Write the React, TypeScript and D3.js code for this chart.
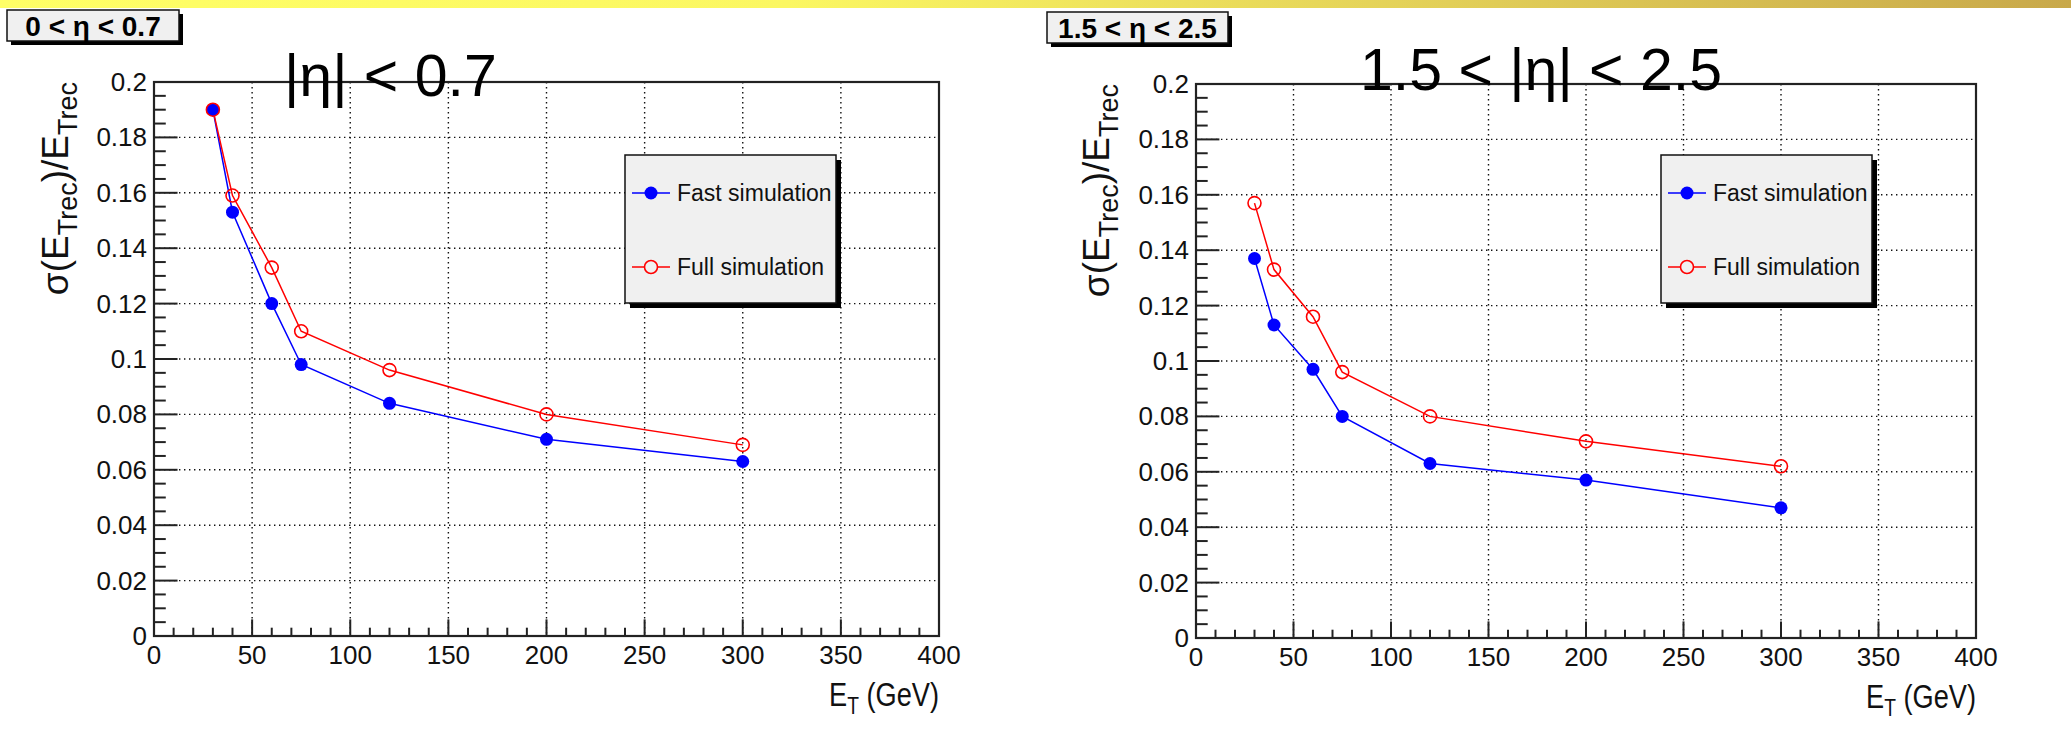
import React from 'react';
import * as d3 from 'd3';

// ---- data ----
const energies = [30, 40, 60, 75, 120, 200, 300];
const fastCentral = [0.19, 0.153, 0.12, 0.098, 0.084, 0.071, 0.063];
const fullCentral = [0.19, 0.159, 0.133, 0.11, 0.096, 0.08, 0.069];
const fastForward = [0.137, 0.113, 0.097, 0.08, 0.063, 0.057, 0.047];
const fullForward = [0.157, 0.133, 0.116, 0.096, 0.08, 0.071, 0.062];
const xTickValues = [0, 50, 100, 150, 200, 250, 300, 350, 400];
const yTickValues = [0, 0.02, 0.04, 0.06, 0.08, 0.1, 0.12, 0.14, 0.16, 0.18, 0.2];
const yTickLabels = ['0', '0.02', '0.04', '0.06', '0.08', '0.1', '0.12', '0.14', '0.16', '0.18', '0.2'];
const seriesNames = ['Fast simulation', 'Full simulation'];
const panelTitles = ['|η| < 0.7', '1.5 < |η| < 2.5'];
const boxLabels = ['0 < η < 0.7', '1.5 < η < 2.5'];

const FONT = '"Liberation Sans", Arial, Helvetica, sans-serif';

type PanelProps = {
  left: number; right: number; top: number; bottom: number;
  fast: number[]; full: number[];
  title: string; titleX: number; titleY: number;
  box: string; boxX: number; boxY: number; boxW: number; boxH: number;
  legX: number; legY: number; legW: number; legH: number;
  yTitleX: number;
};

function Panel(p: PanelProps) {
  const x = d3.scaleLinear().domain([0, 400]).range([p.left, p.right]);
  const y = d3.scaleLinear().domain([0, 0.2]).range([p.bottom, p.top]);
  const line = d3.line<number>().x((_, i) => x(energies[i])).y((d) => y(d));
  const xMinor = d3.range(0, 401, 10);
  const yMinor = d3.range(0, 41).map((i) => i * 0.005);
  const yMajLen = 0.03 * (p.right - p.left);
  const xMajLen = 0.03 * (p.bottom - p.top);
  const grid = { stroke: '#111', strokeWidth: 1.4, strokeDasharray: '1.4 3.6' };
  const legRow1 = p.legY + 38;
  const legRow2 = p.legY + 112;
  return (
    <g>
      {/* grid */}
      {xTickValues.slice(1, -1).map((v) => (
        <line key={'gx' + v} x1={x(v)} x2={x(v)} y1={p.top} y2={p.bottom} {...grid} />
      ))}
      {yTickValues.slice(1, -1).map((v) => (
        <line key={'gy' + v} x1={p.left} x2={p.right} y1={y(v)} y2={y(v)} {...grid} />
      ))}
      {/* frame */}
      <rect x={p.left} y={p.top} width={p.right - p.left} height={p.bottom - p.top} fill="none" stroke="#222" strokeWidth={2.2} />
      {/* ticks */}
      {xMinor.map((v) => {
        const maj = v % 50 === 0;
        return <line key={'tx' + v} x1={x(v)} x2={x(v)} y1={p.bottom} y2={p.bottom - (maj ? xMajLen : xMajLen / 2)} stroke="#222" strokeWidth={2} />;
      })}
      {yMinor.map((v, i) => {
        const maj = i % 4 === 0;
        return <line key={'ty' + i} x1={p.left} x2={p.left + (maj ? yMajLen : yMajLen / 2)} y1={y(v)} y2={y(v)} stroke="#222" strokeWidth={2} />;
      })}
      {/* tick labels */}
      {xTickValues.map((v) => (
        <text key={'lx' + v} x={x(v)} y={p.bottom + 28} textAnchor="middle" fontFamily={FONT} fontSize={26} fill="#111">{v}</text>
      ))}
      {yTickValues.map((v, i) => (
        <text key={'ly' + i} x={p.left - 7} y={y(v) + 9} textAnchor="end" fontFamily={FONT} fontSize={26} fill="#111">{yTickLabels[i]}</text>
      ))}
      {/* axis titles */}
      <text transform={`translate(${p.right},${p.bottom + 70}) scale(0.8,1)`} textAnchor="end" fontFamily={FONT} fontSize={34} fill="#111">
        E<tspan fontSize={24} dy={8}>T</tspan><tspan dy={-8}> (GeV)</tspan>
      </text>
      <text transform={`translate(${p.yTitleX},${p.top}) rotate(-90)`} textAnchor="end" fontFamily={FONT} fontSize={37} fill="#111">
        σ(E<tspan fontSize={27} dy={9}>Trec</tspan><tspan dy={-9}>)/E</tspan><tspan fontSize={27} dy={9}>Trec</tspan>
      </text>
      {/* series */}
      <path d={line(p.fast) || ''} fill="none" stroke="#0000ff" strokeWidth={1.5} />
      <path d={line(p.full) || ''} fill="none" stroke="#ff0000" strokeWidth={1.5} />
      {p.fast.map((v, i) => (
        <circle key={'f' + i} cx={x(energies[i])} cy={y(v)} r={6.5} fill="#0000ff" />
      ))}
      {p.full.map((v, i) => (
        <circle key={'u' + i} cx={x(energies[i])} cy={y(v)} r={6.5} fill="none" stroke="#ff0000" strokeWidth={1.6} />
      ))}
      {/* legend */}
      <rect x={p.legX + 5} y={p.legY + 5} width={p.legW} height={p.legH} fill="#000" />
      <rect x={p.legX} y={p.legY} width={p.legW} height={p.legH} fill="#f0f0f0" stroke="#111" strokeWidth={1.5} />
      <line x1={p.legX + 7} x2={p.legX + 45} y1={legRow1} y2={legRow1} stroke="#0000ff" strokeWidth={1.5} />
      <circle cx={p.legX + 26} cy={legRow1} r={6.5} fill="#0000ff" />
      <text x={p.legX + 52} y={legRow1 + 8} fontFamily={FONT} fontSize={23} fill="#111">{seriesNames[0]}</text>
      <line x1={p.legX + 7} x2={p.legX + 45} y1={legRow2} y2={legRow2} stroke="#ff0000" strokeWidth={1.5} />
      <circle cx={p.legX + 26} cy={legRow2} r={6.5} fill="#f0f0f0" stroke="#ff0000" strokeWidth={1.6} />
      <text x={p.legX + 52} y={legRow2 + 8} fontFamily={FONT} fontSize={23} fill="#111">{seriesNames[1]}</text>
      {/* box label */}
      <rect x={p.boxX + 4} y={p.boxY + 4} width={p.boxW} height={p.boxH} fill="#000" />
      <rect x={p.boxX} y={p.boxY} width={p.boxW} height={p.boxH} fill="#f0f0f0" stroke="#111" strokeWidth={1.5} />
      <text x={p.boxX + p.boxW / 2} y={p.boxY + p.boxH / 2 + 10} textAnchor="middle" fontFamily={FONT} fontWeight="bold" fontSize={28} fill="#000">{p.box}</text>
      {/* big title */}
      <text x={p.titleX} y={p.titleY} fontFamily={FONT} fontSize={59} fill="#000">{p.title}</text>
    </g>
  );
}

export default function App() {
  return (
    <svg width={2071} height={743} style={{ position: 'absolute', left: 0, top: 0, background: '#fff' }}>
      <defs>
        <linearGradient id="band" x1="0" x2="1" y1="0" y2="0">
          <stop offset="0" stopColor="#ffff66" />
          <stop offset="0.38" stopColor="#fbf762" />
          <stop offset="0.7" stopColor="#e2cf58" />
          <stop offset="1" stopColor="#c8a84a" />
        </linearGradient>
      </defs>
      <rect x={0} y={0} width={2071} height={743} fill="#fff" />
      <rect x={0} y={0} width={2071} height={8} fill="url(#band)" />
      <Panel
        left={154} right={939} top={82} bottom={636}
        fast={fastCentral} full={fullCentral}
        title={panelTitles[0]} titleX={284} titleY={96}
        box={boxLabels[0]} boxX={7} boxY={10} boxW={172} boxH={31}
        legX={625} legY={155} legW={211} legH={148}
        yTitleX={68}
      />
      <Panel
        left={1196} right={1976} top={84} bottom={638}
        fast={fastForward} full={fullForward}
        title={panelTitles[1]} titleX={1360} titleY={90}
        box={boxLabels[1]} boxX={1047} boxY={12} boxW={181} boxH={31}
        legX={1661} legY={155} legW={211} legH={148}
        yTitleX={1109}
      />
    </svg>
  );
}
